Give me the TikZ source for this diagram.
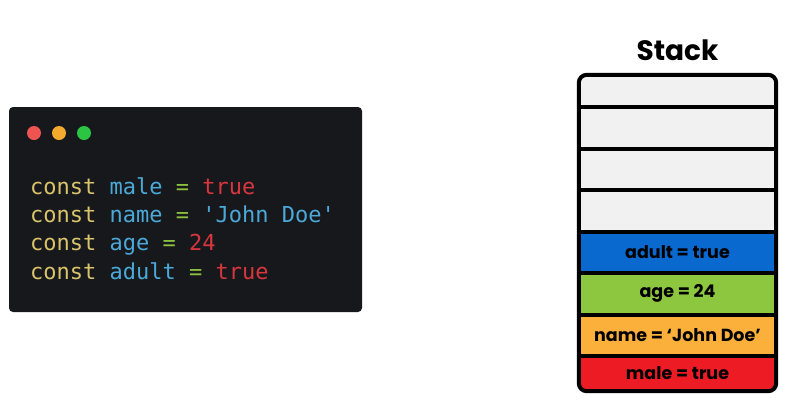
\documentclass[tikz,border=0pt]{standalone}
\usepackage{fontspec}
\setmonofont{DejaVu Sans Mono}
\newfontfamily\stackfont{Poppins}
\definecolor{editorbg}{HTML}{17181B}
\definecolor{kwcol}{HTML}{D9C46C}
\definecolor{idcol}{HTML}{4BA9D9}
\definecolor{opcol}{HTML}{8DC13F}
\definecolor{valcol}{HTML}{D8363F}
\definecolor{dotred}{HTML}{EE5452}
\definecolor{dotorange}{HTML}{F4AA2E}
\definecolor{dotgreen}{HTML}{2CC443}
\definecolor{slotgray}{HTML}{F1F1F1}
\definecolor{slotblue}{HTML}{0A69CF}
\definecolor{slotgreen}{HTML}{8DC63F}
\definecolor{slotorange}{HTML}{FBB03B}
\definecolor{slotred}{HTML}{ED1C24}
\newcommand{\kw}[1]{\textcolor{kwcol}{#1}}
\newcommand{\id}[1]{\textcolor{idcol}{#1}}
\newcommand{\op}[1]{\textcolor{opcol}{#1}}
\newcommand{\val}[1]{\textcolor{valcol}{#1}}

\tikzset{
	codeline/.style={anchor=base west,inner sep=0pt,font=\ttfamily\fontsize{22}{22}\selectfont},
	windot/.style={circle,inner sep=0pt,minimum size=14},
	slot/.style={inner sep=0pt,minimum width=197,font=\stackfont\bfseries\fontsize{17.5}{17.5}\selectfont},
}

\begin{document}
\begin{tikzpicture}[x=1pt,y=-1pt]
		\useasboundingbox (0,0) rectangle (790,408);
		\fill[editorbg,rounded corners=4] (9,107) rectangle (362,312);
		\node[windot,fill=dotred] (red) at (34,133) {};
		\node[windot,fill=dotorange] (orange) at (59,133) {};
		\node[windot,fill=dotgreen] (green) at (84,133) {};
		\node[codeline] (line1) at (30,194) {\kw{const} \id{male} \op{=} \val{true}};
		\node[codeline] (line2) at (30,222.5) {\kw{const} \id{name} \op{=} \id{'John Doe'}};
		\node[codeline] (line3) at (30,250.5) {\kw{const} \id{age} \op{=} \val{24}};
		\node[codeline] (line4) at (30,279) {\kw{const} \id{adult} \op{=} \val{true}};
		\node[font=\stackfont\bfseries\fontsize{28}{28}\selectfont] (title) at (677.5,50) {Stack};
		\begin{scope}
			\clip[rounded corners=8] (579,75) rectangle (776,391);
			\node[slot,fill=slotgray,minimum height=32] (s1) at (677.5,91) {};
			\node[slot,fill=slotgray,minimum height=41.5] (s2) at (677.5,127.75) {};
			\node[slot,fill=slotgray,minimum height=41.5] (s3) at (677.5,169.25) {};
			\node[slot,fill=slotgray,minimum height=41.5] (s4) at (677.5,210.75) {};
			\node[slot,fill=slotblue,minimum height=41.5] (s5) at (677.5,252.25) {adult = true};
			\node[slot,fill=slotgreen,minimum height=41.5] (s6) at (677.5,293.75) {age = 24};
			\node[slot,fill=slotorange,minimum height=41.5] (s7) at (677.5,335.25) {name = ‘John Doe’};
			\node[slot,fill=slotred,minimum height=35] (s8) at (677.5,373.5) {male = true};
		\end{scope}
		\foreach \s in {s1,s2,s3,s4,s5,s6,s7}
			\draw[line width=4] (\s.south west) -- (\s.south east);
		\draw[line width=4,rounded corners=8] (s1.north west) rectangle (s8.south east);
 	 \end{tikzpicture}
\end{document}
